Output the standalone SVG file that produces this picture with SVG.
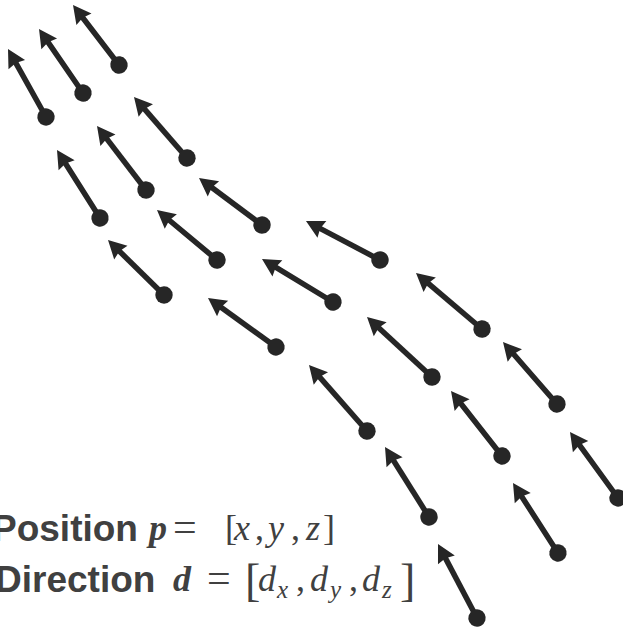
<svg xmlns="http://www.w3.org/2000/svg" width="623" height="630" viewBox="0 0 623 630">
<style>
.arr{fill:none;stroke:#262626;stroke-width:5.5;marker-end:url(#head);marker-start:url(#dot)}
.lbl{font-family:"Liberation Sans",Arial,sans-serif;font-weight:bold;font-size:37px;fill:#404040}
.m{font-family:"Liberation Serif","Times New Roman",serif;font-size:36px;fill:#404040}
.mi{font-style:italic}
.mb{font-style:italic;font-weight:bold}
.eq{font-size:42px}
.br{font-size:46px}
.sub{font-style:italic;font-size:25px}
</style>
<defs>
<marker id="head" viewBox="-19 -10 20 20" refX="0" refY="0" markerWidth="20" markerHeight="20" markerUnits="userSpaceOnUse" orient="auto" overflow="visible">
<path d="M0,0 L-18,-9.5 L-16,0 L-18,9.5 Z" fill="#262626"/>
</marker>
<marker id="dot" viewBox="-9 -9 18 18" refX="0" refY="0" markerWidth="18" markerHeight="18" markerUnits="userSpaceOnUse" orient="auto" overflow="visible">
<circle cx="0" cy="0" r="8.7" fill="#262626"/>
</marker>
</defs>
<g id="connectors">
<path id="a1" class="arr" pathLength="100" stroke-dasharray="85 15" d="M119,65 L73,5"/>
<path id="a2" class="arr" pathLength="100" stroke-dasharray="85 15" d="M83,93 L39,29"/>
<path id="a3" class="arr" pathLength="100" stroke-dasharray="85 15" d="M46,117 L8,49"/>
<path id="a4" class="arr" pathLength="100" stroke-dasharray="85 15" d="M187,158 L134,97"/>
<path id="a5" class="arr" pathLength="100" stroke-dasharray="85 15" d="M146,190 L97,126"/>
<path id="a6" class="arr" pathLength="100" stroke-dasharray="85 15" d="M100,218 L57,150"/>
<path id="a7" class="arr" pathLength="100" stroke-dasharray="85 15" d="M262,225 L199,178"/>
<path id="a8" class="arr" pathLength="100" stroke-dasharray="85 15" d="M217,260 L157,210"/>
<path id="a9" class="arr" pathLength="100" stroke-dasharray="85 15" d="M164,295 L108,240"/>
<path id="a10" class="arr" pathLength="100" stroke-dasharray="85 15" d="M380,260 L306,221"/>
<path id="a11" class="arr" pathLength="100" stroke-dasharray="85 15" d="M333,302 L262,259"/>
<path id="a12" class="arr" pathLength="100" stroke-dasharray="85 15" d="M276,347 L208,298"/>
<path id="a13" class="arr" pathLength="100" stroke-dasharray="85 15" d="M482,329 L416,273"/>
<path id="a14" class="arr" pathLength="100" stroke-dasharray="85 15" d="M432,377 L367,317"/>
<path id="a15" class="arr" pathLength="100" stroke-dasharray="85 15" d="M367,431 L309,365"/>
<path id="a16" class="arr" pathLength="100" stroke-dasharray="85 15" d="M557,404 L503,342"/>
<path id="a17" class="arr" pathLength="100" stroke-dasharray="85 15" d="M502,456 L451,391"/>
<path id="a18" class="arr" pathLength="100" stroke-dasharray="85 15" d="M429,517 L385,447"/>
<path id="a19" class="arr" pathLength="100" stroke-dasharray="85 15" d="M618,498 L570,432"/>
<path id="a20" class="arr" pathLength="100" stroke-dasharray="85 15" d="M558,553 L513,483"/>
<path id="a21" class="arr" pathLength="100" stroke-dasharray="85 15" d="M477,618 L438,544"/>
</g>
<g id="label-position">
<text class="lbl" x="-8" y="541">Position</text>
<text class="m" y="540"><tspan class="mb" x="149">p</tspan><tspan class="eq" x="173" y="541">=</tspan><tspan x="225" y="540">[</tspan><tspan class="mi" x="234">x</tspan><tspan x="255">,</tspan><tspan class="mi" x="268">y</tspan><tspan x="291">,</tspan><tspan class="mi" x="306">z</tspan><tspan x="323">]</tspan></text>
</g>
<g id="label-direction">
<text class="lbl" x="-5" y="592">Direction</text>
<text class="m" y="591"><tspan class="mb" x="173">d</tspan><tspan class="eq" x="207" y="592">=</tspan><tspan class="br" x="245" y="596">[</tspan><tspan class="mi" x="258" y="591">d</tspan><tspan class="sub" x="277" y="598">x</tspan><tspan x="296" y="591">,</tspan><tspan class="mi" x="310">d</tspan><tspan class="sub" x="330" y="598">y</tspan><tspan x="349" y="591">,</tspan><tspan class="mi" x="362">d</tspan><tspan class="sub" x="382" y="598">z</tspan><tspan class="br" x="400" y="596">]</tspan></text>
</g>
</svg>
